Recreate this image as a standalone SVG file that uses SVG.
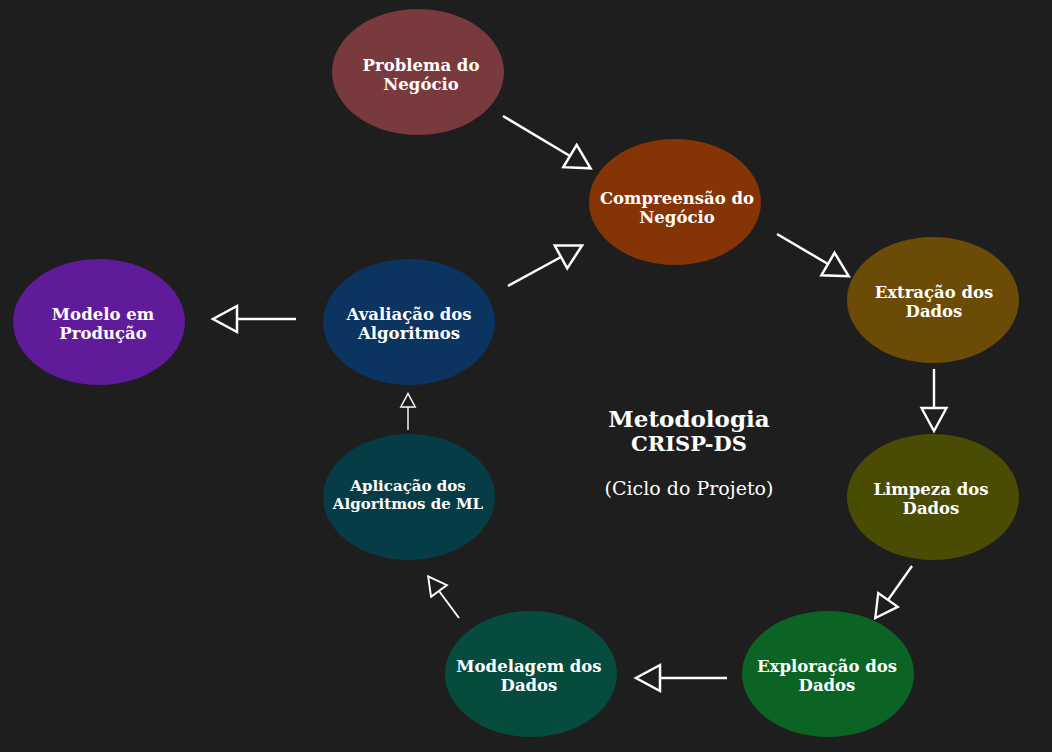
<svg xmlns="http://www.w3.org/2000/svg" width="1052" height="752" viewBox="0 0 1052 752">
<style>
.node text{font-family:"DejaVu Serif","Liberation Serif",serif;font-weight:bold;font-size:16.5px;fill:#ffffff;text-anchor:middle}
.conn line{stroke:#ffffff;fill:none;stroke-linecap:butt}
.title{font-family:"DejaVu Serif","Liberation Serif",serif;font-weight:bold;fill:#ffffff;text-anchor:middle}
</style>
<defs>
<marker id="tri" viewBox="-1 -6.5 12 13" markerWidth="12" markerHeight="13" refX="0" refY="0" orient="auto" markerUnits="strokeWidth" overflow="visible">
<path d="M0,-5.2 L9.6,0 L0,5.2 Z" fill="none" stroke="#ffffff" stroke-width="1" stroke-linejoin="miter"/>
</marker>
</defs>
<rect width="1052" height="752" fill="#1e1e1e"/>
<g id="connectors" class="conn">
<line x1="503" y1="116" x2="570" y2="156" stroke-width="2.5" marker-end="url(#tri)"/>
<line x1="777" y1="234" x2="828" y2="264" stroke-width="2.5" marker-end="url(#tri)"/>
<line x1="934" y1="369" x2="934" y2="408" stroke-width="2.4" marker-end="url(#tri)"/>
<line x1="912" y1="566" x2="888" y2="600" stroke-width="2.3" marker-end="url(#tri)"/>
<line x1="727" y1="678" x2="660" y2="678" stroke-width="2.5" marker-end="url(#tri)"/>
<line x1="459" y1="618" x2="439" y2="591" stroke-width="1.9" marker-end="url(#tri)"/>
<line x1="408" y1="430" x2="408" y2="407" stroke-width="1.4" marker-end="url(#tri)"/>
<line x1="296" y1="319" x2="237" y2="319" stroke-width="2.5" marker-end="url(#tri)"/>
<line x1="508" y1="286" x2="561" y2="257" stroke-width="2.5" marker-end="url(#tri)"/>
</g>
<g id="problema" class="node">
<ellipse cx="418" cy="72" rx="86" ry="63" fill="#783a3c"/>
<text x="421" y="71">Problema do</text>
<text x="421" y="90">Negócio</text>
</g>
<g id="compreensao" class="node">
<ellipse cx="675" cy="202" rx="86" ry="63" fill="#853405"/>
<text x="677" y="204">Compreensão do</text>
<text x="677" y="223">Negócio</text>
</g>
<g id="extracao" class="node">
<ellipse cx="933" cy="300" rx="86" ry="63" fill="#6b4b06"/>
<text x="934" y="298">Extração dos</text>
<text x="934" y="317">Dados</text>
</g>
<g id="limpeza" class="node">
<ellipse cx="933" cy="497" rx="86" ry="63" fill="#4b4c04"/>
<text x="931" y="495">Limpeza dos</text>
<text x="931" y="514">Dados</text>
</g>
<g id="exploracao" class="node">
<ellipse cx="828" cy="674" rx="86" ry="63" fill="#0c6424"/>
<text x="827" y="672">Exploração dos</text>
<text x="827" y="691">Dados</text>
</g>
<g id="modelagem" class="node">
<ellipse cx="531" cy="674" rx="86" ry="63" fill="#074a3e"/>
<text x="529" y="672">Modelagem dos</text>
<text x="529" y="691">Dados</text>
</g>
<g id="aplicacao" class="node">
<ellipse cx="409" cy="497" rx="86" ry="63" fill="#063c46"/>
<text x="408" y="491" style="font-size:15px">Aplicação dos</text>
<text x="408" y="509" style="font-size:15px">Algoritmos de ML</text>
</g>
<g id="avaliacao" class="node">
<ellipse cx="409" cy="322" rx="86" ry="63" fill="#0b3461"/>
<text x="409" y="320">Avaliação dos</text>
<text x="409" y="339">Algoritmos</text>
</g>
<g id="producao" class="node">
<ellipse cx="99" cy="322" rx="86" ry="63" fill="#5f1b9a"/>
<text x="103" y="320">Modelo em</text>
<text x="103" y="339">Produção</text>
</g>
<g id="titulo">
<text class="title" x="689" y="427" style="font-size:23px">Metodologia</text>
<text class="title" x="689" y="451" style="font-size:21px">CRISP-DS</text>
<text class="title" x="689" y="495" style="font-size:19px;font-weight:normal">(Ciclo do Projeto)</text>
</g>
</svg>
